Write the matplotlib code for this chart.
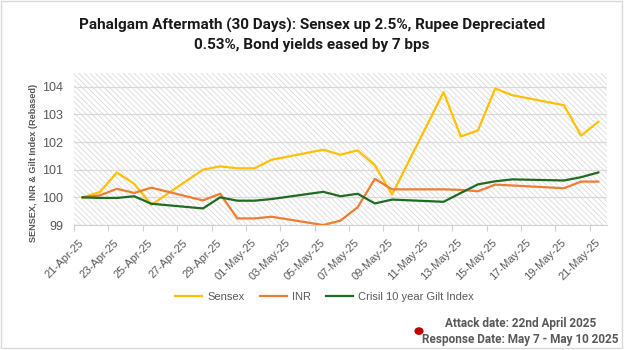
import numpy as np
import pandas as pd
import matplotlib
matplotlib.use("Agg")
import matplotlib.pyplot as plt
import matplotlib.dates as mdates
import matplotlib.transforms as mtransforms
from matplotlib.patches import Rectangle, Ellipse

# trading days
dates = ["2025-04-21", "2025-04-22", "2025-04-23", "2025-04-24", "2025-04-25",
         "2025-04-28", "2025-04-29", "2025-04-30", "2025-05-01", "2025-05-02",
         "2025-05-05", "2025-05-06", "2025-05-07", "2025-05-08", "2025-05-09",
         "2025-05-12", "2025-05-13", "2025-05-14", "2025-05-15", "2025-05-16",
         "2025-05-19", "2025-05-20", "2025-05-21"]

sensex = [100.0, 100.19, 100.9, 100.49, 99.73,
          101.0, 101.12, 101.05, 101.05, 101.36,
          101.72, 101.54, 101.70, 101.16, 100.1,
          103.8, 102.2, 102.42, 103.93, 103.69,
          103.33, 102.23, 102.73]

inr = [100.0, 100.07, 100.31, 100.16, 100.35,
       99.89, 100.13, 99.24, 99.24, 99.30,
       99.0, 99.16, 99.64, 100.67, 100.29,
       100.29, 100.27, 100.22, 100.46, 100.43,
       100.33, 100.57, 100.57]

gilt = [100.0, 99.98, 99.98, 100.04, 99.77,
        99.6, 100.0, 99.88, 99.88, 99.94,
        100.2, 100.04, 100.13, 99.78, 99.92,
        99.84, 100.16, 100.47, 100.58, 100.65,
        100.61, 100.73, 100.9]

labels = ["Sensex", "INR", "Crisil 10 year Gilt Index"]
colors = ["#FFC000", "#ED7D31", "#1F6B1F"]

title = "Pahalgam Aftermath (30 Days): Sensex up 2.5%, Rupee Depreciated\n0.53%, Bond yields eased by 7 bps"
note1 = "Attack date: 22nd April 2025"
note2 = "Response Date: May 7 - May 10 2025"

#--------------------figure--------------------
plt.rcParams['hatch.color'] = '#d4d4d4'
plt.rcParams['hatch.linewidth'] = 0.5

fig = plt.figure(figsize=(6.24, 3.5), dpi=100)
ax = fig.add_axes([0.1186, 0.357, 0.854, 0.435])

x = pd.to_datetime(dates) + pd.Timedelta(hours=12)   # points centred on the day
for y, lab, c in zip([sensex, inr, gilt], labels, colors):
    ax.plot(x, y, color=c, lw=1.6, label=lab, zorder=3)

ax.set_xlim(pd.Timestamp("2025-04-21"), pd.Timestamp("2025-05-22"))
ax.set_ylim(99, 104.5)
ax.set_yticks([99, 100, 101, 102, 103, 104])
ax.xaxis.set_major_locator(mdates.DayLocator(interval=2))
ax.xaxis.set_major_formatter(mdates.DateFormatter("%d-%b-%y"))

ax.patch.set_facecolor('white')
ax.patch.set_hatch(chr(92) * 6)
ax.patch.set_edgecolor('#d4d4d4')
ax.patch.set_linewidth(0)

ax.grid(axis='y', color='#d9d9d9', lw=0.9)
ax.set_axisbelow(True)
for s in ['top', 'right', 'left']:
    ax.spines[s].set_visible(False)
ax.spines['bottom'].set_color('#d0d0d0')
ax.tick_params(axis='x', colors='#d0d0d0', labelcolor='#595959', length=4, labelsize=8)
ax.tick_params(axis='y', length=0, labelcolor='#595959', labelsize=9, pad=8)
shift = mtransforms.ScaledTranslation(5/100, -2/100, fig.dpi_scale_trans)
for t in ax.get_xticklabels():
    t.set_rotation(45)
    t.set_ha('right')
    t.set_rotation_mode('anchor')
    t.set_transform(t.get_transform() + shift)
for t in ax.get_xticklabels() + ax.get_yticklabels():
    t.set_family('Liberation Sans')

ax.set_ylabel("SENSEX, INR & Gilt Index (Rebased)", fontsize=6.6, fontweight='bold',
              color='#595959', family='Liberation Sans')
ax.yaxis.set_label_coords(-0.068, 0.405)

fig.suptitle(title, x=0.5, y=0.948, fontsize=11, fontweight='bold', family='Roboto',
             color='#1a1a1a', linespacing=1.45)

fig.legend(loc='center', bbox_to_anchor=(0.52, 0.152), ncol=3, frameon=False,
           prop={'family': 'Liberation Sans', 'size': 8}, labelcolor='#595959',
           handlelength=2.45, columnspacing=1.35, handletextpad=0.45)

fig.text(0.834, 0.077, note1, ha='center', va='center', fontsize=8.5, fontweight='bold',
         color='#595959', family='Roboto')
fig.text(0.834, 0.031, note2, ha='center', va='center', fontsize=8.5, fontweight='bold',
         color='#595959', family='Roboto')
fig.patches.append(Ellipse((0.6715, 0.054), 0.0125, 0.018, transform=fig.transFigure,
                           color='#C00000', figure=fig))

fig.patches.append(Rectangle((0.002, 0.006), 0.994, 0.99, transform=fig.transFigure,
                             fill=False, edgecolor='#d9d9d9', lw=1, figure=fig))

fig.savefig("out.png", dpi=100)
